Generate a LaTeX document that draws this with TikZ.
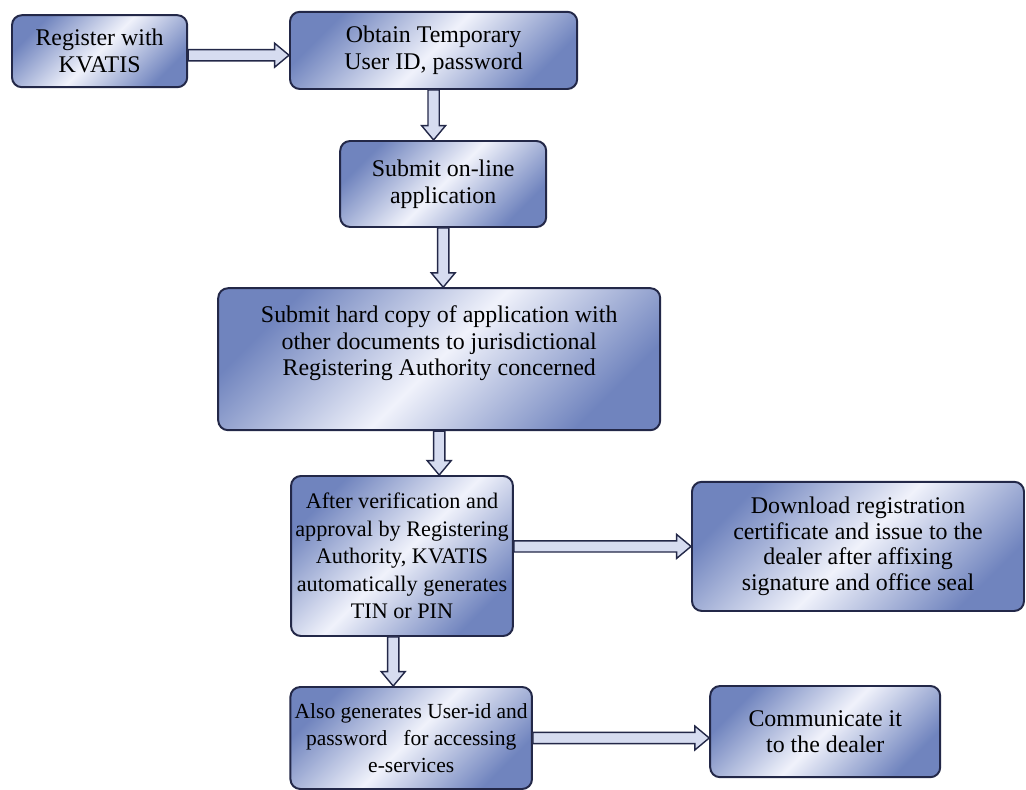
\documentclass[tikz,border=0pt]{standalone}
\usepackage{fontspec}
\setmainfont{Liberation Serif}
\usetikzlibrary{calc}
\definecolor{boxnavy}{RGB}{35,40,72}
\definecolor{boxblue}{RGB}{112,132,190}
\definecolor{boxlight}{RGB}{240,242,251}
\definecolor{arrowfill}{RGB}{214,220,240}

\tikzset{
  stepbox/.style={draw=boxnavy, line width=1.4pt, rounded corners=7pt,
    top color=boxblue, bottom color=boxblue, middle color=boxlight, shading angle=45,
    align=center, inner sep=3pt, font=\fontsize{17}{19}\selectfont},
  blockarrow/.style={draw=boxnavy, line width=1pt, fill=arrowfill},
  % hollow arrow pointing right
  rarrow/.style={blockarrow, to path={
    ($(\tikztostart)+(0,0.14)$) -- ($(\tikztotarget)+(-0.36,0.14)$)
    -- ($(\tikztotarget)+(-0.36,0.3)$) -- (\tikztotarget)
    -- ($(\tikztotarget)+(-0.36,-0.3)$) -- ($(\tikztotarget)+(-0.36,-0.14)$)
    -- ($(\tikztostart)+(0,-0.14)$) -- cycle}},
  % hollow arrow pointing down
  darrow/.style={blockarrow, to path={
    ($(\tikztostart)+(-0.14,0)$) -- ($(\tikztotarget)+(-0.14,0.36)$)
    -- ($(\tikztotarget)+(-0.3,0.36)$) -- (\tikztotarget)
    -- ($(\tikztotarget)+(0.3,0.36)$) -- ($(\tikztotarget)+(0.14,0.36)$)
    -- ($(\tikztostart)+(0.14,0)$) -- cycle}}
}

\begin{document}
\begin{tikzpicture}
\useasboundingbox (0,0) rectangle (25.65,-19.75);
% Steps
\node[stepbox, minimum width=4.38cm, minimum height=1.8cm] (reg) at (2.49,-1.28) {Register with\\KVATIS};
\node[stepbox, minimum width=7.18cm, minimum height=1.93cm] (tmp) at (10.84,-1.26) {Obtain Temporary\\User ID, password};
\node[stepbox, minimum width=5.15cm, minimum height=2.15cm] (onl) at (11.08,-4.6) {Submit on-line\\application};
\node[stepbox, minimum width=11.05cm, minimum height=3.55cm, text depth=0.93cm] (hard) at (10.98,-8.98)
  {Submit hard copy of application with\\other documents to jurisdictional\\Registering Authority concerned};
\node[stepbox, minimum width=5.5cm, minimum height=4cm, font=\fontsize{15.8}{19.6}\selectfont] (ver) at (10.05,-13.9)
  {After verification and\\approval by Registering\\Authority, KVATIS\\automatically generates\\TIN or PIN};
\node[stepbox, minimum width=8.3cm, minimum height=3.23cm, font=\fontsize{17}{18.3}\selectfont] (dl) at (21.45,-13.66)
  {Download registration\\certificate and issue to the\\dealer after affixing\\signature and office seal};
\node[stepbox, minimum width=5.85cm, minimum height=2.55cm, font=\fontsize{15.3}{19}\selectfont] (also) at (10.28,-18.45)
  {Also generates User-id and\\password~~~for accessing\\e-services};
\node[stepbox, minimum width=5.75cm, minimum height=2.28cm] (com) at (20.63,-18.29) {Communicate it\\to the dealer};
% Arrows
\coordinate (versrc) at ([xshift=-0.22cm]ver.south);
\draw[rarrow] ([yshift=-0.1cm]reg.east) to ([yshift=-0.1cm]reg.east -| tmp.west);
\draw[darrow] (tmp.south) to (tmp.south |- onl.north);
\draw[darrow] (onl.south) to (onl.south |- hard.north);
\draw[darrow] (hard.south) to (hard.south |- ver.north);
\draw[rarrow] (ver.east |- dl.west) to (dl.west);
\draw[darrow] (versrc) to (versrc |- also.north);
\draw[rarrow] (also.east) to (also.east -| com.west);
\end{tikzpicture}
\end{document}
